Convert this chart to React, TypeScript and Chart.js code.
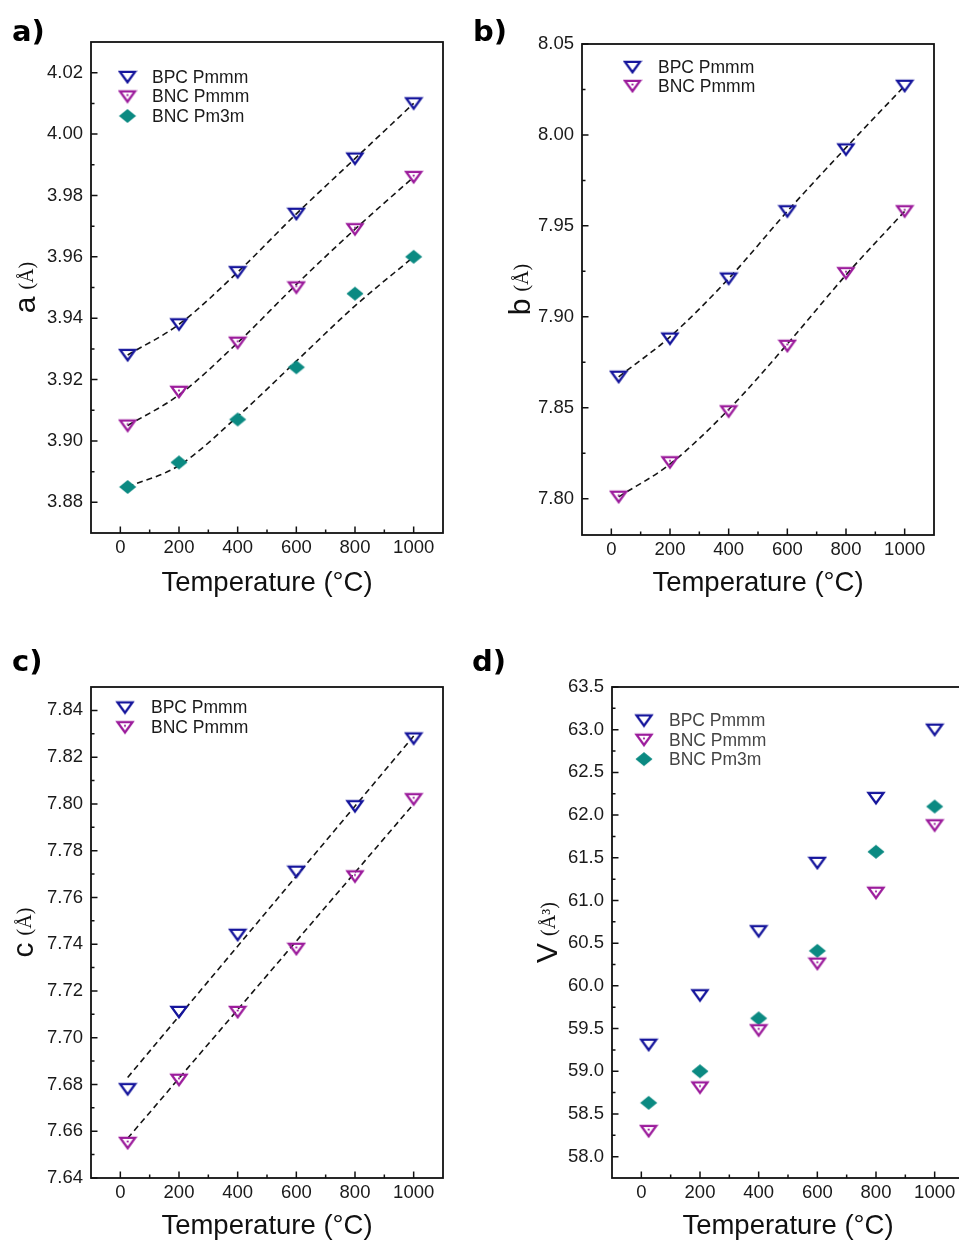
import React, { useEffect, useRef } from "react";
import { Chart, registerables } from "chart.js";

Chart.register(...registerables);

// ---------------- data ----------------
const temperatures = [25, 200, 400, 600, 800, 1000];
const xTickValues = [0, 200, 400, 600, 800, 1000];
const xMinorValues = [100, 300, 500, 700, 900];

const aBPCPmmm = [3.928, 3.938, 3.955, 3.974, 3.992, 4.01];
const aBNCPmmm = [3.905, 3.916, 3.932, 3.95, 3.969, 3.986];
const aBNCPm3m = [3.885, 3.893, 3.907, 3.924, 3.948, 3.96];
const aFitBPC = [3.928, 3.938, 3.955, 3.974, 3.992, 4.01];
const aFitBNC = [3.905, 3.915, 3.932, 3.951, 3.969, 3.986];
const aFitPm3m = [3.885, 3.892, 3.908, 3.926, 3.944, 3.96];
const aTicks = [3.88, 3.9, 3.92, 3.94, 3.96, 3.98, 4.0, 4.02];
const aMinor = [3.89, 3.91, 3.93, 3.95, 3.97, 3.99, 4.01];

const bBPCPmmm = [7.867, 7.888, 7.921, 7.958, 7.992, 8.027];
const bBNCPmmm = [7.801, 7.82, 7.848, 7.884, 7.924, 7.958];
const bFitBPC = [7.867, 7.889, 7.921, 7.958, 7.993, 8.027];
const bFitBNC = [7.801, 7.819, 7.849, 7.885, 7.923, 7.958];
const bTicks = [7.8, 7.85, 7.9, 7.95, 8.0, 8.05];
const bMinor = [7.825, 7.875, 7.925, 7.975, 8.025];

const cBPCPmmm = [7.678, 7.711, 7.744, 7.771, 7.799, 7.828];
const cBNCPmmm = [7.655, 7.682, 7.711, 7.738, 7.769, 7.802];
const cFitX = [25, 1000];
const cFitBPC = [7.683, 7.829];
const cFitBNC = [7.657, 7.8];
const cTicks = [7.64, 7.66, 7.68, 7.7, 7.72, 7.74, 7.76, 7.78, 7.8, 7.82, 7.84];
const cMinor = [7.65, 7.67, 7.69, 7.71, 7.73, 7.75, 7.77, 7.79, 7.81, 7.83];

const vBPCPmmm = [59.31, 59.89, 60.64, 61.44, 62.2, 63.0];
const vBNCPmmm = [58.3, 58.81, 59.48, 60.26, 61.09, 61.88];
const vBNCPm3m = [58.63, 59.0, 59.62, 60.41, 61.57, 62.1];
const vTicks = [58.0, 58.5, 59.0, 59.5, 60.0, 60.5, 61.0, 61.5, 62.0, 62.5, 63.0, 63.5];
const vMinor = [58.25, 58.75, 59.25, 59.75, 60.25, 60.75, 61.25, 61.75, 62.25, 62.75, 63.25];

// ---------------- styles ----------------
const SANS = '"Liberation Sans", Arial, sans-serif';
const SERIF = '"Liberation Serif", "Times New Roman", serif';
const NAVY = "#15159c";
const MAGENTA = "#9c1c9c";
const TEAL = "#0b8a82";

type MarkerKind = "bpc" | "bnc" | "pm3m";

function makeMarker(kind: MarkerKind): HTMLCanvasElement {
  const c = document.createElement("canvas");
  c.width = 20;
  c.height = 16;
  const g = c.getContext("2d")!;
  if (kind === "pm3m") {
    g.fillStyle = TEAL;
    g.beginPath();
    g.moveTo(10, 1);
    g.lineTo(18.5, 8);
    g.lineTo(10, 15);
    g.lineTo(1.5, 8);
    g.closePath();
    g.fill();
  } else {
    g.strokeStyle = kind === "bpc" ? NAVY : MAGENTA;
    g.lineWidth = 2.3;
    g.lineJoin = "miter";
    g.beginPath();
    g.moveTo(2.5, 2.8);
    g.lineTo(17.5, 2.8);
    g.lineTo(10, 13.2);
    g.closePath();
    g.stroke();
    if (kind === "bnc") {
      g.fillStyle = MAGENTA;
      g.beginPath();
      g.arc(10, 6.6, 1.1, 0, Math.PI * 2);
      g.fill();
    }
  }
  return c;
}

type Series = { label: string; data: number[]; marker: MarkerKind };
type Fit = { x: number[]; y: number[]; smooth: boolean };
type PanelSpec = {
  left: number;
  top: number;
  width: number;
  height: number;
  padTop: number;
  padRight: number;
  yAxisW: number;
  xAxisH: number;
  yMin: number;
  yMax: number;
  yTicks: number[];
  yMinor: number[];
  decimals: number;
  letter: string;
  unit: string;
  titleBaseX: number;
  series: Series[];
  fits: Fit[];
  legend: { mx: number; tx: number; y0: number; dy: number; color: string };
};

const panels: PanelSpec[] = [
  {
    left: 0, top: 0, width: 470, height: 600,
    padTop: 42, padRight: 27, yAxisW: 91, xAxisH: 67,
    yMin: 3.87, yMax: 4.03, yTicks: aTicks, yMinor: aMinor, decimals: 2,
    letter: "a", unit: "(Å)", titleBaseX: 35,
    series: [
      { label: "BPC Pmmm", data: aBPCPmmm, marker: "bpc" },
      { label: "BNC Pmmm", data: aBNCPmmm, marker: "bnc" },
      { label: "BNC Pm3m", data: aBNCPm3m, marker: "pm3m" },
    ],
    fits: [
      { x: temperatures, y: aFitBPC, smooth: true },
      { x: temperatures, y: aFitBNC, smooth: true },
      { x: temperatures, y: aFitPm3m, smooth: true },
    ],
    legend: { mx: 36.5, tx: 61, y0: 35, dy: 19.5, color: "#1a1a1a" },
  },
  {
    left: 480, top: 0, width: 479, height: 600,
    padTop: 44, padRight: 25, yAxisW: 102, xAxisH: 65,
    yMin: 7.78, yMax: 8.05, yTicks: bTicks, yMinor: bMinor, decimals: 2,
    letter: "b", unit: "(Å)", titleBaseX: 530,
    series: [
      { label: "BPC Pmmm", data: bBPCPmmm, marker: "bpc" },
      { label: "BNC Pmmm", data: bBNCPmmm, marker: "bnc" },
    ],
    fits: [
      { x: temperatures, y: bFitBPC, smooth: true },
      { x: temperatures, y: bFitBNC, smooth: true },
    ],
    legend: { mx: 50.5, tx: 76, y0: 23, dy: 19, color: "#1a1a1a" },
  },
  {
    left: 0, top: 620, width: 470, height: 623,
    padTop: 67, padRight: 27, yAxisW: 91, xAxisH: 65,
    yMin: 7.64, yMax: 7.85, yTicks: cTicks, yMinor: cMinor, decimals: 2,
    letter: "c", unit: "(Å)", titleBaseX: 33,
    series: [
      { label: "BPC Pmmm", data: cBPCPmmm, marker: "bpc" },
      { label: "BNC Pmmm", data: cBNCPmmm, marker: "bnc" },
    ],
    fits: [
      { x: cFitX, y: cFitBPC, smooth: false },
      { x: cFitX, y: cFitBNC, smooth: false },
    ],
    legend: { mx: 34, tx: 60, y0: 20.5, dy: 19.7, color: "#1a1a1a" },
  },
  {
    left: 480, top: 620, width: 500, height: 623,
    padTop: 67, padRight: 16, yAxisW: 132, xAxisH: 65,
    yMin: 57.75, yMax: 63.5, yTicks: vTicks, yMinor: vMinor, decimals: 1,
    letter: "V", unit: "(Å³)", titleBaseX: 557,
    series: [
      { label: "BPC Pmmm", data: vBPCPmmm, marker: "bpc" },
      { label: "BNC Pmmm", data: vBNCPmmm, marker: "bnc" },
      { label: "BNC Pm3m", data: vBNCPm3m, marker: "pm3m" },
    ],
    fits: [],
    legend: { mx: 32, tx: 57, y0: 33.5, dy: 19.3, color: "#454545" },
  },
];

function decorPlugin(spec: PanelSpec, markers: Record<MarkerKind, HTMLCanvasElement>) {
  return {
    id: "panelDecor",
    afterDraw(chart: any) {
      const ctx: CanvasRenderingContext2D = chart.ctx;
      const ca = chart.chartArea;
      const xs = chart.scales.x;
      const ys = chart.scales.y;
      ctx.save();
      // inward ticks
      ctx.strokeStyle = "#111";
      ctx.lineWidth = 1.5;
      ctx.beginPath();
      xTickValues.forEach((v) => {
        const p = xs.getPixelForValue(v);
        ctx.moveTo(p, ca.bottom);
        ctx.lineTo(p, ca.bottom - 6.5);
      });
      xMinorValues.forEach((v) => {
        const p = xs.getPixelForValue(v);
        ctx.moveTo(p, ca.bottom);
        ctx.lineTo(p, ca.bottom - 3.5);
      });
      spec.yTicks.forEach((v) => {
        const p = ys.getPixelForValue(v);
        ctx.moveTo(ca.left, p);
        ctx.lineTo(ca.left + 6.5, p);
      });
      spec.yMinor.forEach((v) => {
        const p = ys.getPixelForValue(v);
        ctx.moveTo(ca.left, p);
        ctx.lineTo(ca.left + 3.5, p);
      });
      ctx.stroke();
      // frame
      ctx.lineWidth = 1.8;
      ctx.strokeStyle = "#111";
      ctx.strokeRect(ca.left, ca.top, ca.right - ca.left, ca.bottom - ca.top);
      // legend
      ctx.font = `17.5px ${SANS}`;
      ctx.textBaseline = "middle";
      ctx.textAlign = "left";
      ctx.fillStyle = spec.legend.color;
      spec.series.forEach((s, i) => {
        const y = ca.top + spec.legend.y0 + i * spec.legend.dy;
        const img = markers[s.marker];
        ctx.drawImage(img, ca.left + spec.legend.mx - img.width / 2, y - img.height / 2);
        ctx.fillText(s.label, ca.left + spec.legend.tx, y + 1);
      });
      // y-axis title (mixed fonts)
      const cy = (ca.top + ca.bottom) / 2;
      ctx.translate(spec.titleBaseX - spec.left, cy);
      ctx.rotate(-Math.PI / 2);
      ctx.fillStyle = "#111";
      ctx.textBaseline = "alphabetic";
      ctx.font = `30px ${SANS}`;
      const w1 = ctx.measureText(spec.letter).width;
      ctx.font = `20px ${SERIF}`;
      const w2 = ctx.measureText(spec.unit).width;
      const gap = 7;
      const total = w1 + gap + w2;
      ctx.font = `30px ${SANS}`;
      ctx.fillText(spec.letter, -total / 2, 0);
      ctx.font = `20px ${SERIF}`;
      ctx.fillText(spec.unit, -total / 2 + w1 + gap, -2);
      ctx.restore();
    },
  };
}

function Panel({ spec }: { spec: PanelSpec }) {
  const ref = useRef<HTMLCanvasElement | null>(null);
  useEffect(() => {
    if (!ref.current) return;
    const markers = {
      bpc: makeMarker("bpc"),
      bnc: makeMarker("bnc"),
      pm3m: makeMarker("pm3m"),
    } as Record<MarkerKind, HTMLCanvasElement>;
    const datasets: any[] = [];
    spec.series.forEach((s) => {
      datasets.push({
        label: s.label,
        data: temperatures.map((t, i) => ({ x: t, y: s.data[i] })),
        showLine: false,
        pointStyle: markers[s.marker],
        pointRadius: 8,
        pointHoverRadius: 8,
        borderColor: "transparent",
        backgroundColor: "transparent",
        order: 0,
      });
    });
    spec.fits.forEach((f) => {
      datasets.push({
        label: "fit",
        data: f.x.map((x, i) => ({ x, y: f.y[i] })),
        showLine: true,
        borderColor: "#151515",
        borderWidth: 1.6,
        borderDash: [6, 4],
        pointRadius: 0,
        fill: false,
        cubicInterpolationMode: f.smooth ? "monotone" : "default",
        tension: f.smooth ? 0.4 : 0,
        order: 1,
      });
    });
    const tickFont = { family: SANS, size: 18.5 };
    const chart = new Chart(ref.current, {
      type: "line",
      data: { datasets },
      options: {
        responsive: false,
        animation: false,
        devicePixelRatio: 1,
        events: [],
        layout: { padding: { top: spec.padTop, right: spec.padRight, left: 0, bottom: 0 } },
        plugins: { legend: { display: false }, tooltip: { enabled: false } },
        scales: {
          x: {
            type: "linear",
            min: -100,
            max: 1100,
            afterBuildTicks: (s: any) => {
              s.ticks = xTickValues.map((v) => ({ value: v }));
            },
            afterFit: (s: any) => {
              s.height = spec.xAxisH;
            },
            grid: { display: false, drawTicks: false },
            border: { display: false },
            ticks: {
              font: tickFont,
              color: "#1a1a1a",
              padding: 4,
              maxRotation: 0,
              autoSkip: false,
              callback: (v: any) => String(Math.round(Number(v))),
            },
            title: {
              display: true,
              text: "Temperature (°C)",
              font: { family: SANS, size: 27.5 },
              color: "#111",
              padding: 0,
            },
          },
          y: {
            type: "linear",
            min: spec.yMin,
            max: spec.yMax,
            afterBuildTicks: (s: any) => {
              s.ticks = spec.yTicks.map((v) => ({ value: v }));
            },
            afterFit: (s: any) => {
              s.width = spec.yAxisW;
            },
            grid: { display: false, drawTicks: false },
            border: { display: false },
            ticks: {
              font: tickFont,
              color: "#1a1a1a",
              padding: 8,
              autoSkip: false,
              callback: (v: any) => Number(v).toFixed(spec.decimals),
            },
          },
        },
      } as any,
      plugins: [decorPlugin(spec, markers)],
    });
    return () => chart.destroy();
  }, [spec]);
  return (
    <canvas
      ref={ref}
      width={spec.width}
      height={spec.height}
      style={{ position: "absolute", left: spec.left, top: spec.top, width: spec.width, height: spec.height }}
    />
  );
}

const panelLetters = [
  { text: "a)", left: 12, top: 16 },
  { text: "b)", left: 473, top: 16 },
  { text: "c)", left: 12, top: 646 },
  { text: "d)", left: 472, top: 646 },
];

export default function App() {
  return (
    <div
      style={{
        position: "absolute",
        left: 0,
        top: 0,
        width: 959,
        height: 1241,
        overflow: "hidden",
        background: "#fff",
      }}
    >
      {panels.map((p, i) => (
        <Panel key={i} spec={p} />
      ))}
      {panelLetters.map((l) => (
        <div
          key={l.text}
          style={{
            position: "absolute",
            left: l.left,
            top: l.top,
            font: `bold 29px "DejaVu Sans", sans-serif`,
            lineHeight: "30px",
            color: "#000",
          }}
        >
          {l.text}
        </div>
      ))}
    </div>
  );
}
